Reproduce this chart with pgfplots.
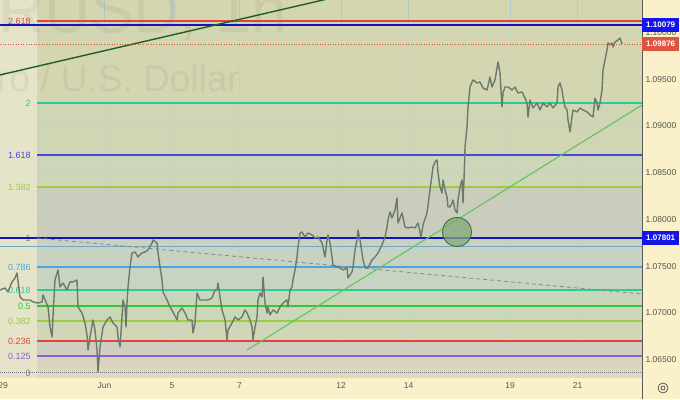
\documentclass[border=0pt]{standalone}
\usepackage{pgfplots}
\pgfplotsset{compat=1.18}
\usepackage{fontspec}
\setmainfont{Liberation Sans}
\definecolor{khaki}{RGB}{212,214,176}
\definecolor{leftbg}{RGB}{229,227,200}
\definecolor{scalebg}{RGB}{250,241,202}
\definecolor{gridc}{RGB}{180,198,210}
\definecolor{fgray}{RGB}{120,123,134}
\definecolor{fpurple}{RGB}{140,95,215}
\definecolor{fred}{RGB}{228,66,60}
\definecolor{fyg}{RGB}{155,205,60}
\definecolor{fgreen}{RGB}{50,200,50}
\definecolor{fteal}{RGB}{40,205,150}
\definecolor{fblue}{RGB}{70,165,230}
\definecolor{fblue2}{RGB}{70,70,225}
\definecolor{rayblue}{RGB}{20,20,190}
\definecolor{lightray}{RGB}{110,170,200}
\definecolor{candle}{RGB}{108,122,108}
\definecolor{trendA}{RGB}{30,95,40}
\definecolor{trendB}{RGB}{100,195,90}
\definecolor{lblred}{RGB}{222,84,64}
\definecolor{lblblue}{RGB}{20,20,235}
\definecolor{ticktext}{RGB}{85,85,85}
\newcommand{\band}[3]{\addplot[draw=none, fill={rgb,255:#3}, fill opacity=0.8, forget plot] coordinates {(1.006,#1) (18.905,#1) (18.905,#2) (1.006,#2)} -- cycle;}
\newcommand{\flevel}[3]{\addplot[color=#3, line width=1.2pt, forget plot] coordinates {(1.006,#1) (18.905,#1)};
  \node[anchor=east, inner sep=1pt, text=#3, font=\fontsize{9}{10}\selectfont] at (axis cs:0.85,#1) {#2};}
\begin{document}
\begin{tikzpicture}[x=1pt,y=1pt]
\path[use as bounding box] (0,-21) rectangle (680,378);
\clip (0,-21) rectangle (680,378);
\fill[scalebg] (0,-21) rectangle (680,378);
\begin{axis}[
  scale only axis, width=642pt, height=378pt,
  xmin=-0.089, xmax=18.905, ymin=1.06303, ymax=1.10348,
  axis background/.style={fill=khaki},
  axis line style={draw=none}, tick style={draw=none},
  xtick={0,3,5,7,10,12,15,17},
  xticklabels={29,Jun,5,7,12,14,19,21},
  ytick={1.065,1.070,1.075,1.080,1.085,1.090,1.095,1.100},
  yticklabels={1.06500,1.07000,1.07500,1.08000,1.08500,1.09000,1.09500,1.10000},
  yticklabel pos=right,
  xmajorgrids, ymajorgrids,
  major grid style={color=gridc, line width=0.5pt},
  ticklabel style={font=\fontsize{8.5}{10}\selectfont, text=ticktext},
  xticklabel style={yshift=-1pt},
]
% left lighter region
\addplot[draw=none, fill=leftbg, forget plot] coordinates {(-0.089,1.06303) (1.006,1.06303) (1.006,1.10348) (-0.089,1.10348)} -- cycle;
% fib bands
\band{1.10123}{1.09245}{red,211;green,214;blue,176}
\band{1.09245}{1.08689}{red,208;green,214;blue,180}
\band{1.08689}{1.08347}{red,204;green,214;blue,186}
\band{1.08347}{1.07801}{red,201;green,203;blue,192}
\band{1.07801}{1.07491}{red,199;green,208;blue,198}
\band{1.07491}{1.07245}{red,197;green,212;blue,199}
\band{1.07245}{1.07074}{red,200;green,215;blue,192}
\band{1.07074}{1.06913}{red,203;green,216;blue,188}
\band{1.06913}{1.06698}{red,207;green,214;blue,186}
\band{1.06698}{1.06538}{red,208;green,204;blue,197}
\band{1.06538}{1.06357}{red,222;green,212;blue,192}
\band{1.06357}{1.06303}{red,228;green,221;blue,196}
% watermark
\node[anchor=base east, inner sep=0pt, font=\fontsize{64}{64}\selectfont, text=black, text opacity=0.05] at (axis cs:8.40,1.09995) {EURUSD, 1h};
\node[anchor=base east, inner sep=0pt, font=\fontsize{37}{37}\selectfont, text=black, text opacity=0.05] at (axis cs:7.01,1.09364) {Euro / U.S. Dollar};
% fib levels
\flevel{1.10123}{2.618}{fred}
\flevel{1.09245}{2}{fteal}
\flevel{1.08689}{1.618}{fblue2}
\flevel{1.08347}{1.382}{fyg}
\flevel{1.07801}{1}{fgray}
\flevel{1.07491}{0.786}{fblue}
\flevel{1.07245}{0.618}{fteal}
\flevel{1.07074}{0.5}{fgreen}
\flevel{1.06913}{0.382}{fyg}
\flevel{1.06698}{0.236}{fred}
\flevel{1.06538}{0.125}{fpurple}
\node[anchor=east, inner sep=1pt, text=fgray, font=\fontsize{9}{10}\selectfont] at (axis cs:0.85,1.06357) {0};
\addplot[fgray, line width=1pt, densely dotted, forget plot] coordinates {(-0.089,1.06357) (18.905,1.06357)};
% horizontal rays
\addplot[lightray, line width=1pt, forget plot] coordinates {(-0.089,1.07705) (18.905,1.07705)};
\addplot[rayblue, line width=1.3pt, forget plot] coordinates {(-0.089,1.07801) (18.905,1.07801)};
\addplot[rayblue, line width=1.3pt, forget plot] coordinates {(-0.089,1.10079) (18.905,1.10079)};
% dashed trend
\addplot[color={rgb,255:red,135;green,138;blue,135}, line width=0.8pt, dash pattern=on 4pt off 3pt, forget plot] coordinates {(1.006,1.07801) (18.905,1.07202)};
% price path
\addplot[candle, line width=1.4pt, line join=round] coordinates {
(-0.089,1.07245) (0.059,1.07266) (0.148,1.07224) (0.266,1.07331) (0.355,1.07373) (0.414,1.07427)
(0.503,1.07170) (0.592,1.07138) (0.799,1.07138) (0.888,1.07117) (1.036,1.07106) (1.154,1.07117)
(1.183,1.07192) (1.331,1.07063) (1.391,1.06849) (1.450,1.06742) (1.479,1.06956) (1.538,1.07352)
(1.627,1.07459) (1.686,1.07277) (1.775,1.07320) (1.893,1.07245) (1.982,1.07331) (2.071,1.07331)
(2.189,1.07352) (2.219,1.07063) (2.337,1.06999) (2.426,1.06892) (2.485,1.06764) (2.515,1.06603)
(2.574,1.06742) (2.663,1.06924) (2.722,1.06817) (2.781,1.06603) (2.811,1.06368) (2.870,1.06635)
(2.959,1.06849) (3.077,1.06924) (3.166,1.06956) (3.254,1.06892) (3.373,1.06849) (3.402,1.06742)
(3.462,1.06635) (3.521,1.06956) (3.550,1.07138) (3.609,1.07063) (3.639,1.06849) (3.669,1.07106)
(3.698,1.07277) (3.757,1.07491) (3.817,1.07641) (3.905,1.07652) (3.994,1.07598) (4.112,1.07641)
(4.201,1.07652) (4.290,1.07673) (4.408,1.07748) (4.438,1.07780) (4.556,1.07748) (4.586,1.07641)
(4.645,1.07491) (4.704,1.07352) (4.734,1.07224) (4.852,1.07138) (4.941,1.07063) (5.030,1.07010)
(5.148,1.06924) (5.178,1.06999) (5.296,1.07052) (5.385,1.06999) (5.473,1.06924) (5.592,1.06924)
(5.621,1.06785) (5.680,1.06892) (5.740,1.07213) (5.828,1.07138) (5.917,1.07138) (6.065,1.07138)
(6.183,1.07159) (6.272,1.07245) (6.331,1.07245) (6.361,1.07320) (6.420,1.07170) (6.479,1.07031)
(6.568,1.06924) (6.627,1.06710) (6.657,1.06817) (6.775,1.06892) (6.864,1.06956) (6.953,1.06924)
(7.071,1.06956) (7.160,1.07031) (7.219,1.06999) (7.308,1.06924) (7.367,1.06849) (7.396,1.06710)
(7.456,1.06849) (7.515,1.06956) (7.544,1.07138) (7.604,1.07213) (7.663,1.07170) (7.692,1.07384)
(7.751,1.07106) (7.811,1.06999) (7.840,1.07063) (7.899,1.06978) (7.988,1.07031) (8.107,1.06999)
(8.195,1.07063) (8.284,1.07106) (8.402,1.07138) (8.432,1.07063) (8.491,1.07245) (8.550,1.07277)
(8.580,1.07352) (8.639,1.07459) (8.698,1.07598) (8.728,1.07705) (8.787,1.07855) (8.846,1.07866)
(8.935,1.07812) (9.024,1.07855) (9.142,1.07834) (9.231,1.07801) (9.320,1.07812) (9.438,1.07748)
(9.527,1.07598) (9.586,1.07780) (9.615,1.07834) (9.675,1.07748) (9.734,1.07598) (9.763,1.07513)
(9.882,1.07491) (9.970,1.07480) (10.059,1.07459) (10.178,1.07480) (10.207,1.07373) (10.325,1.07438)
(10.355,1.07491) (10.414,1.07673) (10.473,1.07780) (10.503,1.07887) (10.562,1.07780) (10.621,1.07641)
(10.651,1.07566) (10.710,1.07491) (10.799,1.07480) (10.917,1.07566) (11.006,1.07598) (11.095,1.07641)
(11.213,1.07727) (11.302,1.07812) (11.361,1.07919) (11.391,1.07994) (11.450,1.08080) (11.509,1.08015)
(11.598,1.08101) (11.657,1.08229) (11.686,1.07962) (11.805,1.08069) (11.893,1.07919) (11.982,1.07908)
(12.101,1.07919) (12.189,1.07908) (12.278,1.07962) (12.367,1.07812) (12.426,1.07941) (12.544,1.08069)
(12.633,1.08315) (12.722,1.08561) (12.781,1.08615) (12.840,1.08636) (12.870,1.08497) (12.929,1.08347)
(12.988,1.08283) (13.018,1.08422) (13.077,1.08315) (13.136,1.08240) (13.166,1.08133) (13.225,1.08133)
(13.284,1.08176) (13.314,1.08208) (13.373,1.08101) (13.432,1.08069) (13.462,1.08208) (13.521,1.08347)
(13.580,1.08422) (13.609,1.08176) (13.639,1.08422) (13.669,1.08775) (13.728,1.08989) (13.757,1.09203)
(13.817,1.09417) (13.876,1.09471) (13.905,1.09492) (14.024,1.09460) (14.112,1.09471) (14.201,1.09406)
(14.320,1.09385) (14.408,1.09524) (14.467,1.09417) (14.556,1.09492) (14.645,1.09685) (14.704,1.09567)
(14.763,1.09203) (14.793,1.09353) (14.852,1.09417) (14.941,1.09417) (15.059,1.09385) (15.148,1.09417)
(15.237,1.09353) (15.355,1.09364) (15.444,1.09299) (15.503,1.09246) (15.533,1.09096) (15.592,1.09278)
(15.680,1.09192) (15.799,1.09246) (15.888,1.09171) (15.976,1.09246) (16.095,1.09203) (16.183,1.09246)
(16.272,1.09192) (16.391,1.09246) (16.420,1.09417) (16.479,1.09460) (16.538,1.09385) (16.568,1.09310)
(16.627,1.09203) (16.686,1.09171) (16.716,1.09064) (16.775,1.08936) (16.834,1.09096) (16.864,1.09171)
(16.982,1.09150) (17.071,1.09192) (17.160,1.09171) (17.278,1.09150) (17.367,1.09118) (17.456,1.09096)
(17.515,1.09299) (17.574,1.09246) (17.604,1.09171) (17.663,1.09246) (17.722,1.09385) (17.751,1.09599)
(17.811,1.09706) (17.870,1.09813) (17.899,1.09888) (17.959,1.09867) (18.018,1.09888) (18.047,1.09845)
(18.107,1.09899) (18.195,1.09920) (18.254,1.09941) (18.314,1.09877)
};
% trend lines
\addplot[trendA, line width=1.4pt, forget plot] coordinates {(-0.089,1.09546) (11.982,1.10559)};
\addplot[trendB, line width=1.1pt, forget plot] coordinates {(7.219,1.06603) (18.905,1.09224)};
% circle
\addplot[only marks, mark=*, mark size=14.5pt, mark options={fill={rgb,255:red,130;green,170;blue,120}, fill opacity=0.75, draw={rgb,255:red,55;green,105;blue,55}, line width=0.8pt}, forget plot] coordinates {(13.432,1.07866)};
% last price line
\addplot[lblred, line width=0.6pt, dotted, forget plot] coordinates {(-0.089,1.09877) (18.905,1.09877)};
\coordinate (rA) at (axis cs:18.905,1.10079);
\coordinate (rB) at (axis cs:18.905,1.09877);
\coordinate (rC) at (axis cs:18.905,1.07801);
\end{axis}
\draw[color={rgb,255:red,90;green,90;blue,90}, line width=0.8pt] (642,-21) -- (642,378);
\node[fill=lblblue, text=white, font=\bfseries\fontsize{8}{9}\selectfont, anchor=west, inner sep=1pt, minimum height=13.5pt, minimum width=37pt] at (rA) {1.10079};
\node[fill=lblred, text=white, font=\bfseries\fontsize{8}{9}\selectfont, anchor=west, inner sep=1pt, minimum height=13.5pt, minimum width=37pt] at (rB) {1.09876};
\node[fill=lblblue, text=white, font=\bfseries\fontsize{8}{9}\selectfont, anchor=west, inner sep=1pt, minimum height=13.5pt, minimum width=37pt] at (rC) {1.07801};
\draw[color={rgb,255:red,90;green,90;blue,90}, line width=0.8pt] (663,-10) circle (5);
\draw[color={rgb,255:red,90;green,90;blue,90}, line width=0.8pt] (663,-10) circle (2);
\end{tikzpicture}
\end{document}
